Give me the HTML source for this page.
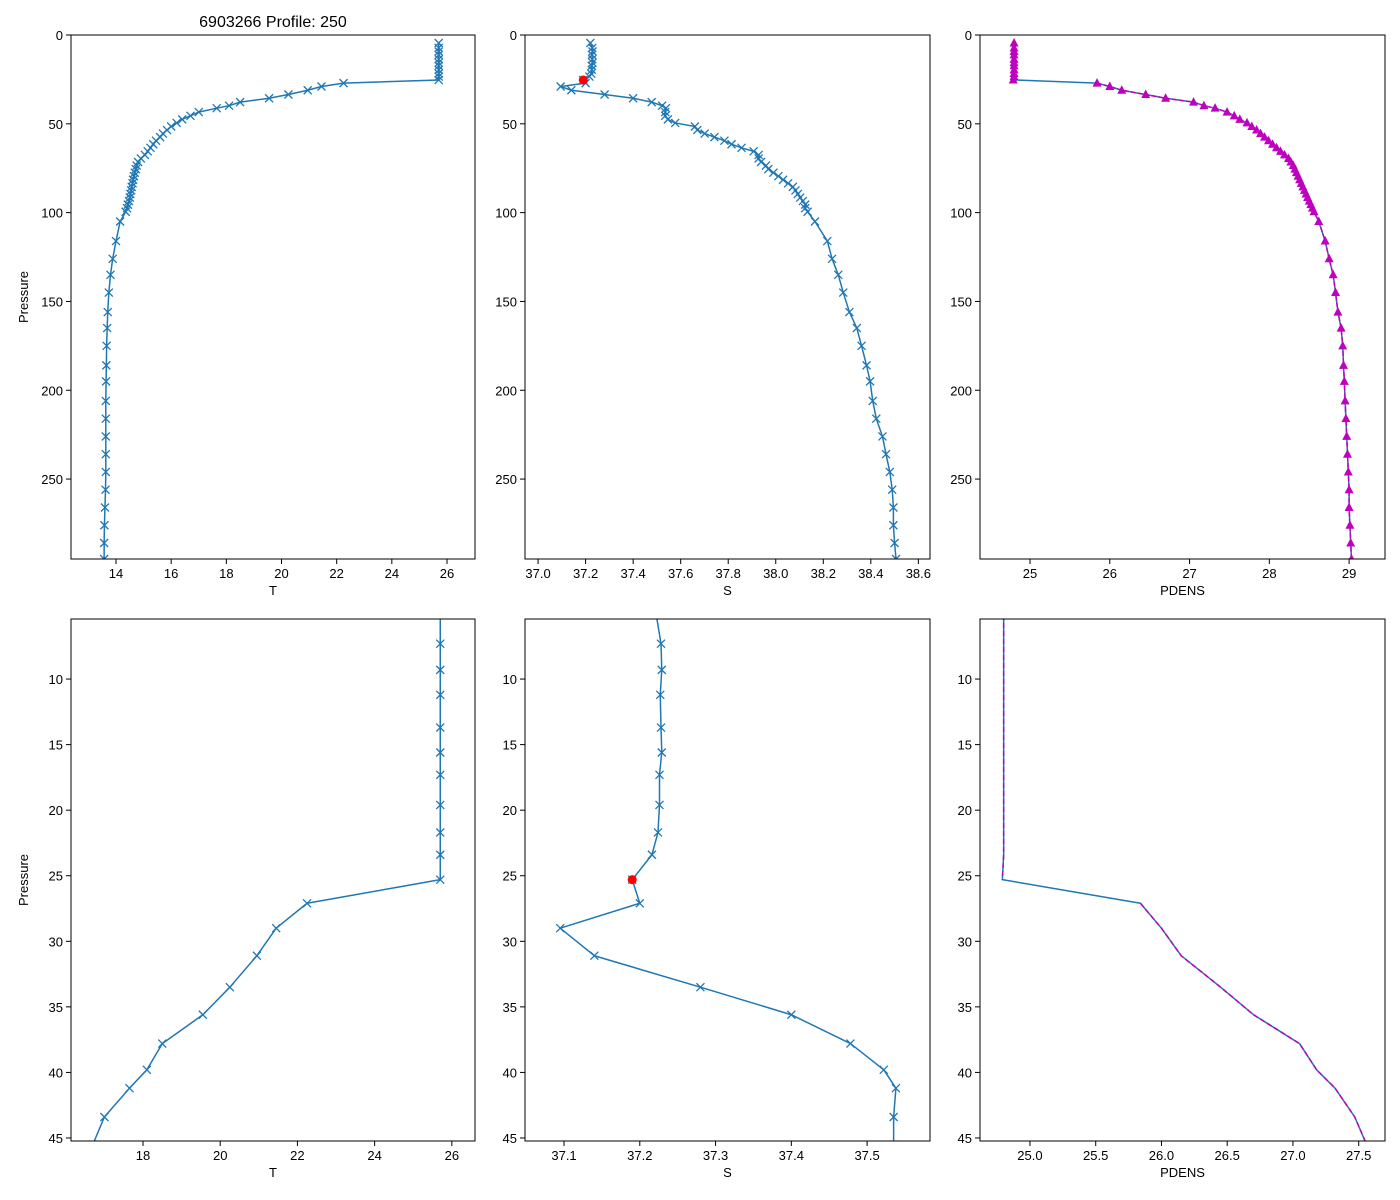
<!DOCTYPE html>
<html><head><meta charset="utf-8"><style>
html,body{margin:0;background:#fff;overflow:hidden;width:1400px;height:1200px;}
svg{display:block;font-family:"Liberation Sans","DejaVu Sans",sans-serif;}
</style></head><body>
<svg id="fig" width="1400" height="1200" viewBox="0 0 1400 1200"></svg>
<script>
const pressure=[4.5,7.3,9.3,11.2,13.7,15.6,17.3,19.6,21.7,23.4,25.3,27.1,29.0,31.1,33.5,35.6,37.8,39.8,41.2,43.4,45.5,47.5,49.5,51.5,53.5,55.5,57.5,59.5,61.5,63.5,65.5,67.5,69.5,71.5,73.5,75.5,77.5,79.5,81.5,83.5,85.5,87.5,89.5,91.5,93.5,95.5,97.5,99.5,105,116,126,135,145,156,165,175,186,195,206,216,226,236,246,256,266,276,286,295];
const temp=[25.7,25.7,25.7,25.7,25.7,25.7,25.7,25.7,25.7,25.7,25.7,22.25,21.45,20.95,20.25,19.55,18.5,18.1,17.65,17.0,16.7,16.4,16.2,16.0,15.85,15.7,15.6,15.45,15.35,15.25,15.15,15.05,14.9,14.8,14.75,14.72,14.68,14.65,14.62,14.6,14.57,14.55,14.52,14.5,14.47,14.43,14.4,14.35,14.15,14.0,13.88,13.8,13.74,13.7,13.68,13.66,13.65,13.64,13.63,13.63,13.63,13.63,13.63,13.62,13.6,13.58,13.57,13.57];
const sal=[37.22,37.228,37.229,37.227,37.228,37.229,37.226,37.226,37.224,37.216,37.19,37.20,37.095,37.14,37.28,37.40,37.478,37.522,37.538,37.535,37.535,37.546,37.577,37.660,37.670,37.701,37.742,37.784,37.814,37.856,37.907,37.928,37.928,37.938,37.959,37.969,37.990,38.011,38.031,38.052,38.072,38.083,38.093,38.103,38.114,38.124,38.124,38.134,38.165,38.217,38.237,38.263,38.284,38.310,38.341,38.361,38.382,38.397,38.408,38.423,38.449,38.464,38.480,38.490,38.495,38.495,38.500,38.506];
const pdens=[24.8,24.8,24.8,24.8,24.8,24.8,24.8,24.8,24.8,24.8,24.79,25.84,26.0,26.15,26.45,26.7,27.05,27.18,27.32,27.47,27.56,27.63,27.72,27.78,27.84,27.89,27.94,27.99,28.04,28.09,28.14,28.19,28.24,28.27,28.30,28.32,28.34,28.36,28.38,28.40,28.42,28.44,28.46,28.48,28.50,28.52,28.54,28.56,28.62,28.7,28.75,28.8,28.83,28.86,28.9,28.92,28.93,28.94,28.95,28.96,28.97,28.98,28.99,29.0,29.0,29.01,29.02,29.03];
const flagIndex=10;
const tTicksTop=[14,16,18,20,22,24,26];
const sTicksTop=[37.0,37.2,37.4,37.6,37.8,38.0,38.2,38.4,38.6];
const dTicksTop=[25,26,27,28,29];
const pTicksTop=[0,50,100,150,200,250];
const tTicksBot=[18,20,22,24,26];
const sTicksBot=[37.1,37.2,37.3,37.4,37.5];
const dTicksBot=[25.0,25.5,26.0,26.5,27.0,27.5];
const pTicksBot=[10,15,20,25,30,35,40,45];

const NS="http://www.w3.org/2000/svg";
const svg=document.getElementById('fig');
function mk(tag,attrs,parent){const e=document.createElementNS(NS,tag);for(const k in attrs)e.setAttribute(k,attrs[k]);(parent||svg).appendChild(e);return e;}
const BLUE="#1f77b4",MAG="#bf00bf";
let clipN=0;
function panel(name,x0,x1,y0,y1,xmin,xmax,pmin,pmax,xTicks,pTicks,xdec,xlabel,showYLabel){
  const g=mk('g',{});
  
  
  const sx=v=>x0+(v-xmin)/(xmax-xmin)*(x1-x0);
  const sy=p=>y0+(p-pmin)/(pmax-pmin)*(y1-y0);
  const id='c'+(clipN++);
  const cp=mk('clipPath',{id:id},g);mk('rect',{x:x0,y:y0,width:x1-x0,height:y1-y0},cp);
  const plot=mk('g',{'clip-path':'url(#'+id+')'},g);
  xTicks.forEach(v=>{const X=sx(v);mk('line',{x1:X,x2:X,y1:y1,y2:y1+5,stroke:'#000','stroke-width':1},g);
    const t=mk('text',{x:X,y:y1+19,'text-anchor':'middle','font-size':13},g);t.textContent=v.toFixed(xdec);
    
    });
  pTicks.forEach(v=>{const Y=sy(v);mk('line',{x1:x0-5,x2:x0,y1:Y,y2:Y,stroke:'#000','stroke-width':1},g);
    const t=mk('text',{x:x0-8,y:Y+5,'text-anchor':'end','font-size':13},g);t.textContent=v;
    
    });
  const xl=mk('text',{x:(x0+x1)/2,y:y1+36,'text-anchor':'middle','font-size':13},g);xl.textContent=xlabel;
  
  
  if(showYLabel){const yl=mk('text',{x:0,y:0,'text-anchor':'middle','font-size':13,transform:`translate(${x0-43},${(y0+y1)/2}) rotate(-90)`},g);yl.textContent='Pressure';
    
    }
  return {g,plot,sx,sy,frame:()=>mk('rect',{x:x0,y:y0,width:x1-x0,height:y1-y0,fill:'none',stroke:'#000','stroke-width':1},g)};
}
function line(P,vals,color,extra){const d=vals.map((v,i)=>(i?'L':'M')+P.sx(v).toFixed(2)+','+P.sy(pressure[i]).toFixed(2)).join('');
  return mk('path',Object.assign({d:d,fill:'none',stroke:color,'stroke-width':1.5,'stroke-linejoin':'round'},extra||{}),P.plot);}
function crosses(P,vals){vals.forEach((v,i)=>{const X=P.sx(v),Y=P.sy(pressure[i]);
  const m=mk('path',{d:`M${X-4},${Y-4}L${X+4},${Y+4}M${X-4},${Y+4}L${X+4},${Y-4}`,stroke:BLUE,'stroke-width':1.3},P.plot);
  
  });}
function tris(P,vals){vals.forEach((v,i)=>{const X=P.sx(v),Y=P.sy(pressure[i]);
  const m=mk('path',{d:`M${X},${Y-5}L${X+4.5},${Y+3.5}L${X-4.5},${Y+3.5}Z`,fill:MAG},P.plot);
  
  });}
function flag(P){const m=mk('circle',{cx:P.sx(sal[flagIndex]),cy:P.sy(pressure[flagIndex]),r:4.5,fill:'#ff0000'},P.plot);
  
  }
function magDash(P,dash){const d=pdens.map((v,i)=>((i==0||i==flagIndex+1)?'M':'L')+P.sx(v).toFixed(2)+','+P.sy(pressure[i]).toFixed(2)).join('');
  mk('path',{d:d,fill:'none',stroke:MAG,'stroke-width':1.5,'stroke-dasharray':dash||'none'},P.plot);}

const tmin=14-45/27.58,tmax=26+28/27.58;
let A=panel('temperature-panel-top',71,475,35,559,tmin,tmax,0,295,tTicksTop,pTicksTop,0,'T',true);
line(A,temp,BLUE);crosses(A,temp);A.frame();
let B=panel('salinity-panel-top',525,930,35,559,36.945,38.649,0,295,sTicksTop,pTicksTop,1,'S',false);
line(B,sal,BLUE);crosses(B,sal);flag(B);B.frame();
let C=panel('density-panel-top',980,1385,35,559,24.373,29.45,0,295,dTicksTop,pTicksTop,0,'PDENS',false);
line(C,pdens,BLUE);magDash(C,'5,2');tris(C,pdens);C.frame();
let D=panel('temperature-panel-zoom',71,475,619,1141,16.135,26.6,5.42,45.23,tTicksBot,pTicksBot,0,'T',true);
line(D,temp,BLUE);crosses(D,temp);D.frame();
let E=panel('salinity-panel-zoom',525,930,619,1141,37.0485,37.583,5.42,45.23,sTicksBot,pTicksBot,1,'S',false);
line(E,sal,BLUE);crosses(E,sal);flag(E);E.frame();
let F=panel('density-panel-zoom',980,1385,619,1141,24.62,27.70,5.42,45.23,dTicksBot,pTicksBot,1,'PDENS',false);
line(F,pdens,BLUE);magDash(F,'5,3');F.frame();

const title=mk('text',{x:273,y:27,'text-anchor':'middle','font-size':16});
title.textContent='6903266 Profile: 250';


</script>
</body></html>
